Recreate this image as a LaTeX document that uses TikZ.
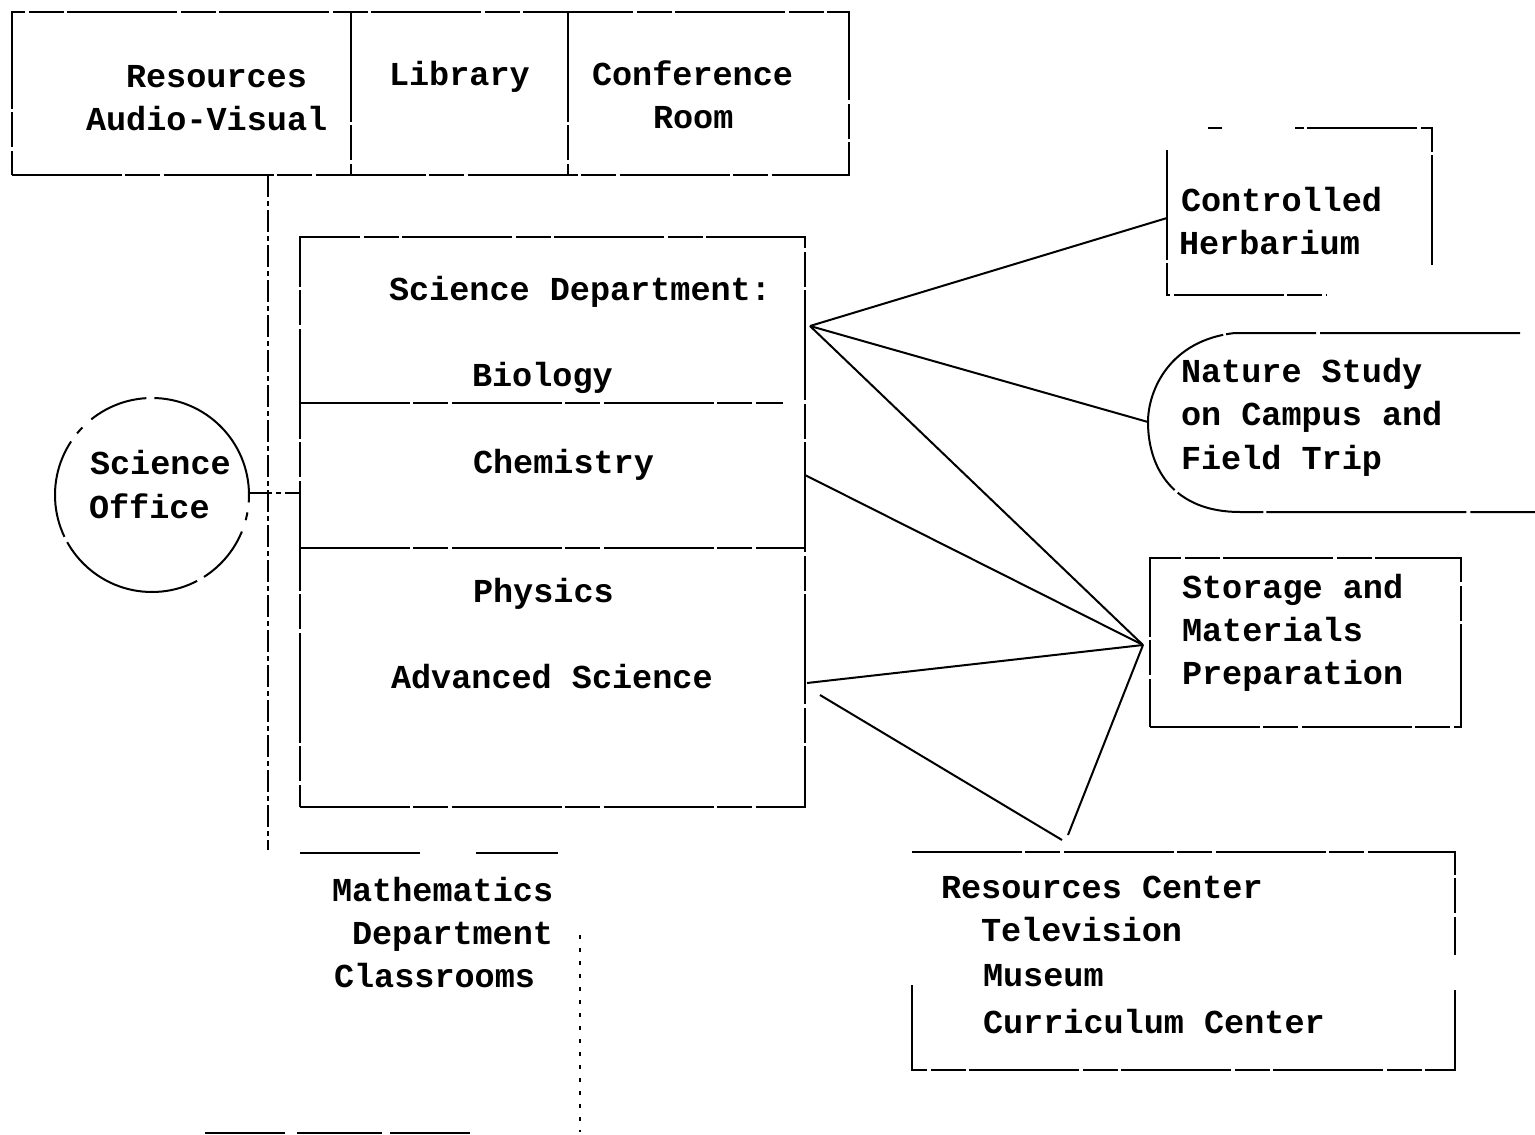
\documentclass[tikz,border=0pt]{standalone}
\usepackage{fontspec}
\setmonofont{Liberation Mono}
\begin{document}
\begin{tikzpicture}[x=1pt,y=-1pt,
  line width=2pt,
  typed/.style={font=\ttfamily\bfseries\fontsize{33.5}{44}\selectfont, inner sep=0pt, anchor=base west},
  wall/.style={draw, line width=2.2pt, dash pattern=on 110pt off 3pt on 35pt off 4pt},
  thinwall/.style={draw, line width=1.8pt, dash pattern=on 22pt off 4pt on 5pt off 4pt},
  dotwall/.style={draw, line width=1.8pt, dash pattern=on 4pt off 9pt},
  box/.style={wall, inner sep=0pt},
  link/.style={draw, line width=2pt}
]
\useasboundingbox (0,0) rectangle (1535,1135);

% ---- top block
\node[box, minimum width=837pt, minimum height=163pt] (top) at (430.5,93.5) {};
\coordinate (d1t) at (351,12); \coordinate (d1b) at (351,175);
\coordinate (d2t) at (568,12); \coordinate (d2b) at (568,175);
\draw[wall] (d1t) -- (d1b);
\draw[wall] (d2t) -- (d2b);
\node[typed] (t1) at (125,87) {Resources};
\node[typed] (t2) at (85,130) {Audio-Visual};
\node[typed] (t3) at (388,85) {Library};
\node[typed] (t4) at (591,85) {Conference};
\node[typed] (t5) at (652,128) {Room};

% ---- vertical corridor line
\coordinate (vtop) at (268,175); \coordinate (vbot) at (268,850);
\draw[thinwall] (vtop) -- (vbot);

% ---- science office
\node[draw, circle, minimum size=194pt, line width=2pt, dash pattern=on 150pt off 8pt on 60pt off 12pt on 8pt off 10pt on 100pt off 6pt] (office) at (152,495) {};
\node[typed] (o1) at (89,474) {Science};
\node[typed] (o2) at (88,518) {Office};

% ---- science department
\node[box, minimum width=505pt, minimum height=570pt] (sci) at (552.5,522) {};
\coordinate (bioL) at (300,403); \coordinate (bioR) at (783,403);
\coordinate (chL) at (300,548); \coordinate (chR) at (805,548);
\draw[wall] (bioL) -- (bioR);
\draw[wall] (chL) -- (chR);
\coordinate (offR) at (250,493); \coordinate (sciL) at (300,493);
\draw[thinwall] (offR) -- (sciL);
\node[typed] (s1) at (388,300) {Science Department:};
\node[typed] (s2) at (471,386) {Biology};
\node[typed] (s3) at (472,473) {Chemistry};
\node[typed] (s4) at (472,602) {Physics};
\node[typed] (s5) at (390,688) {Advanced Science};

% ---- mathematics
\coordinate (m1) at (300,853); \coordinate (m2) at (558,853);
\draw[line width=1.8pt, dash pattern=on 120pt off 56pt on 90pt off 4pt] (m1) -- (m2);
\coordinate (m3) at (580,935); \coordinate (m4) at (580,1132);
\draw[dotwall] (m3) -- (m4);
\coordinate (m5) at (205,1133); \coordinate (m6) at (475,1133);
\draw[line width=1.8pt, dash pattern=on 80pt off 12pt on 85pt off 8pt] (m5) -- (m6);
\node[typed] (ma1) at (331,901) {Mathematics};
\node[typed] (ma2) at (351,944) {Department};
\node[typed] (ma3) at (333,987) {Classrooms};

% ---- controlled herbarium
\coordinate (h1) at (1167,150); \coordinate (h2) at (1167,295); \coordinate (h3) at (1327,295);
\coordinate (h4) at (1432,265); \coordinate (h5) at (1432,128); \coordinate (h6) at (1295,128);
\coordinate (h7) at (1222,128); \coordinate (h8) at (1208,128);
\draw[wall] (h1) -- (h2) -- (h3);
\draw[wall] (h4) -- (h5) -- (h6);
\draw[line width=2pt] (h7) -- (h8);
\node[typed] (c1) at (1180,211) {Controlled};
\node[typed] (c2) at (1178,254) {Herbarium};

% ---- nature study
\coordinate (n1) at (1520,333); \coordinate (n2) at (1235,333);
\coordinate (natL) at (1148,422);
\coordinate (n3) at (1240,512); \coordinate (n4) at (1535,512);
\draw[line width=2pt, dash pattern=on 200pt off 4pt on 90pt off 3pt]
  (n1) -- (n2) .. controls (1170,340) and (1148,390) .. (natL)
  .. controls (1148,470) and (1175,512) .. (n3) -- (n4);
\node[typed] (n5) at (1180,382) {Nature Study};
\node[typed] (n6) at (1180,425) {on Campus and};
\node[typed] (n7) at (1180,469) {Field Trip};

% ---- storage
\node[box, minimum width=311pt, minimum height=169pt] (stor) at (1305.5,642.5) {};
\node[typed] (st1) at (1181,598) {Storage and};
\node[typed] (st2) at (1181,641) {Materials};
\node[typed] (st3) at (1181,684) {Preparation};

% ---- resources center
\coordinate (r1) at (912,852); \coordinate (r2) at (1455,852); \coordinate (r3) at (1455,955);
\coordinate (r4) at (1455,990); \coordinate (r5) at (1455,1070); \coordinate (r6) at (912,1070);
\coordinate (r7) at (912,985);
\draw[wall] (r1) -- (r2) -- (r3);
\draw[wall] (r4) -- (r5) -- (r6) -- (r7);
\node[typed] (rc1) at (940,898) {Resources Center};
\node[typed] (rc2) at (980,941) {Television};
\node[typed] (rc3) at (982,986) {Museum};
\node[typed] (rc4) at (982,1033) {Curriculum Center};

% ---- connectors
\coordinate (hub) at (810,326);
\coordinate (herbL) at (1167,218);
\coordinate (chemR) at (805,475);
\coordinate (advR) at (807,683);
\coordinate (advR2) at (820,695);
\coordinate (storL) at (1143,645);
\coordinate (rcTop) at (1068,835);
\coordinate (rcTop2) at (1062,840);
\draw[link] (hub) -- (herbL);
\draw[link] (hub) -- (natL);
\draw[link] (hub) -- (storL);
\draw[link] (chemR) -- (storL);
\draw[link] (advR) -- (storL);
\draw[link] (advR2) -- (rcTop2);
\draw[link] (storL) -- (rcTop);
\end{tikzpicture}
\end{document}
